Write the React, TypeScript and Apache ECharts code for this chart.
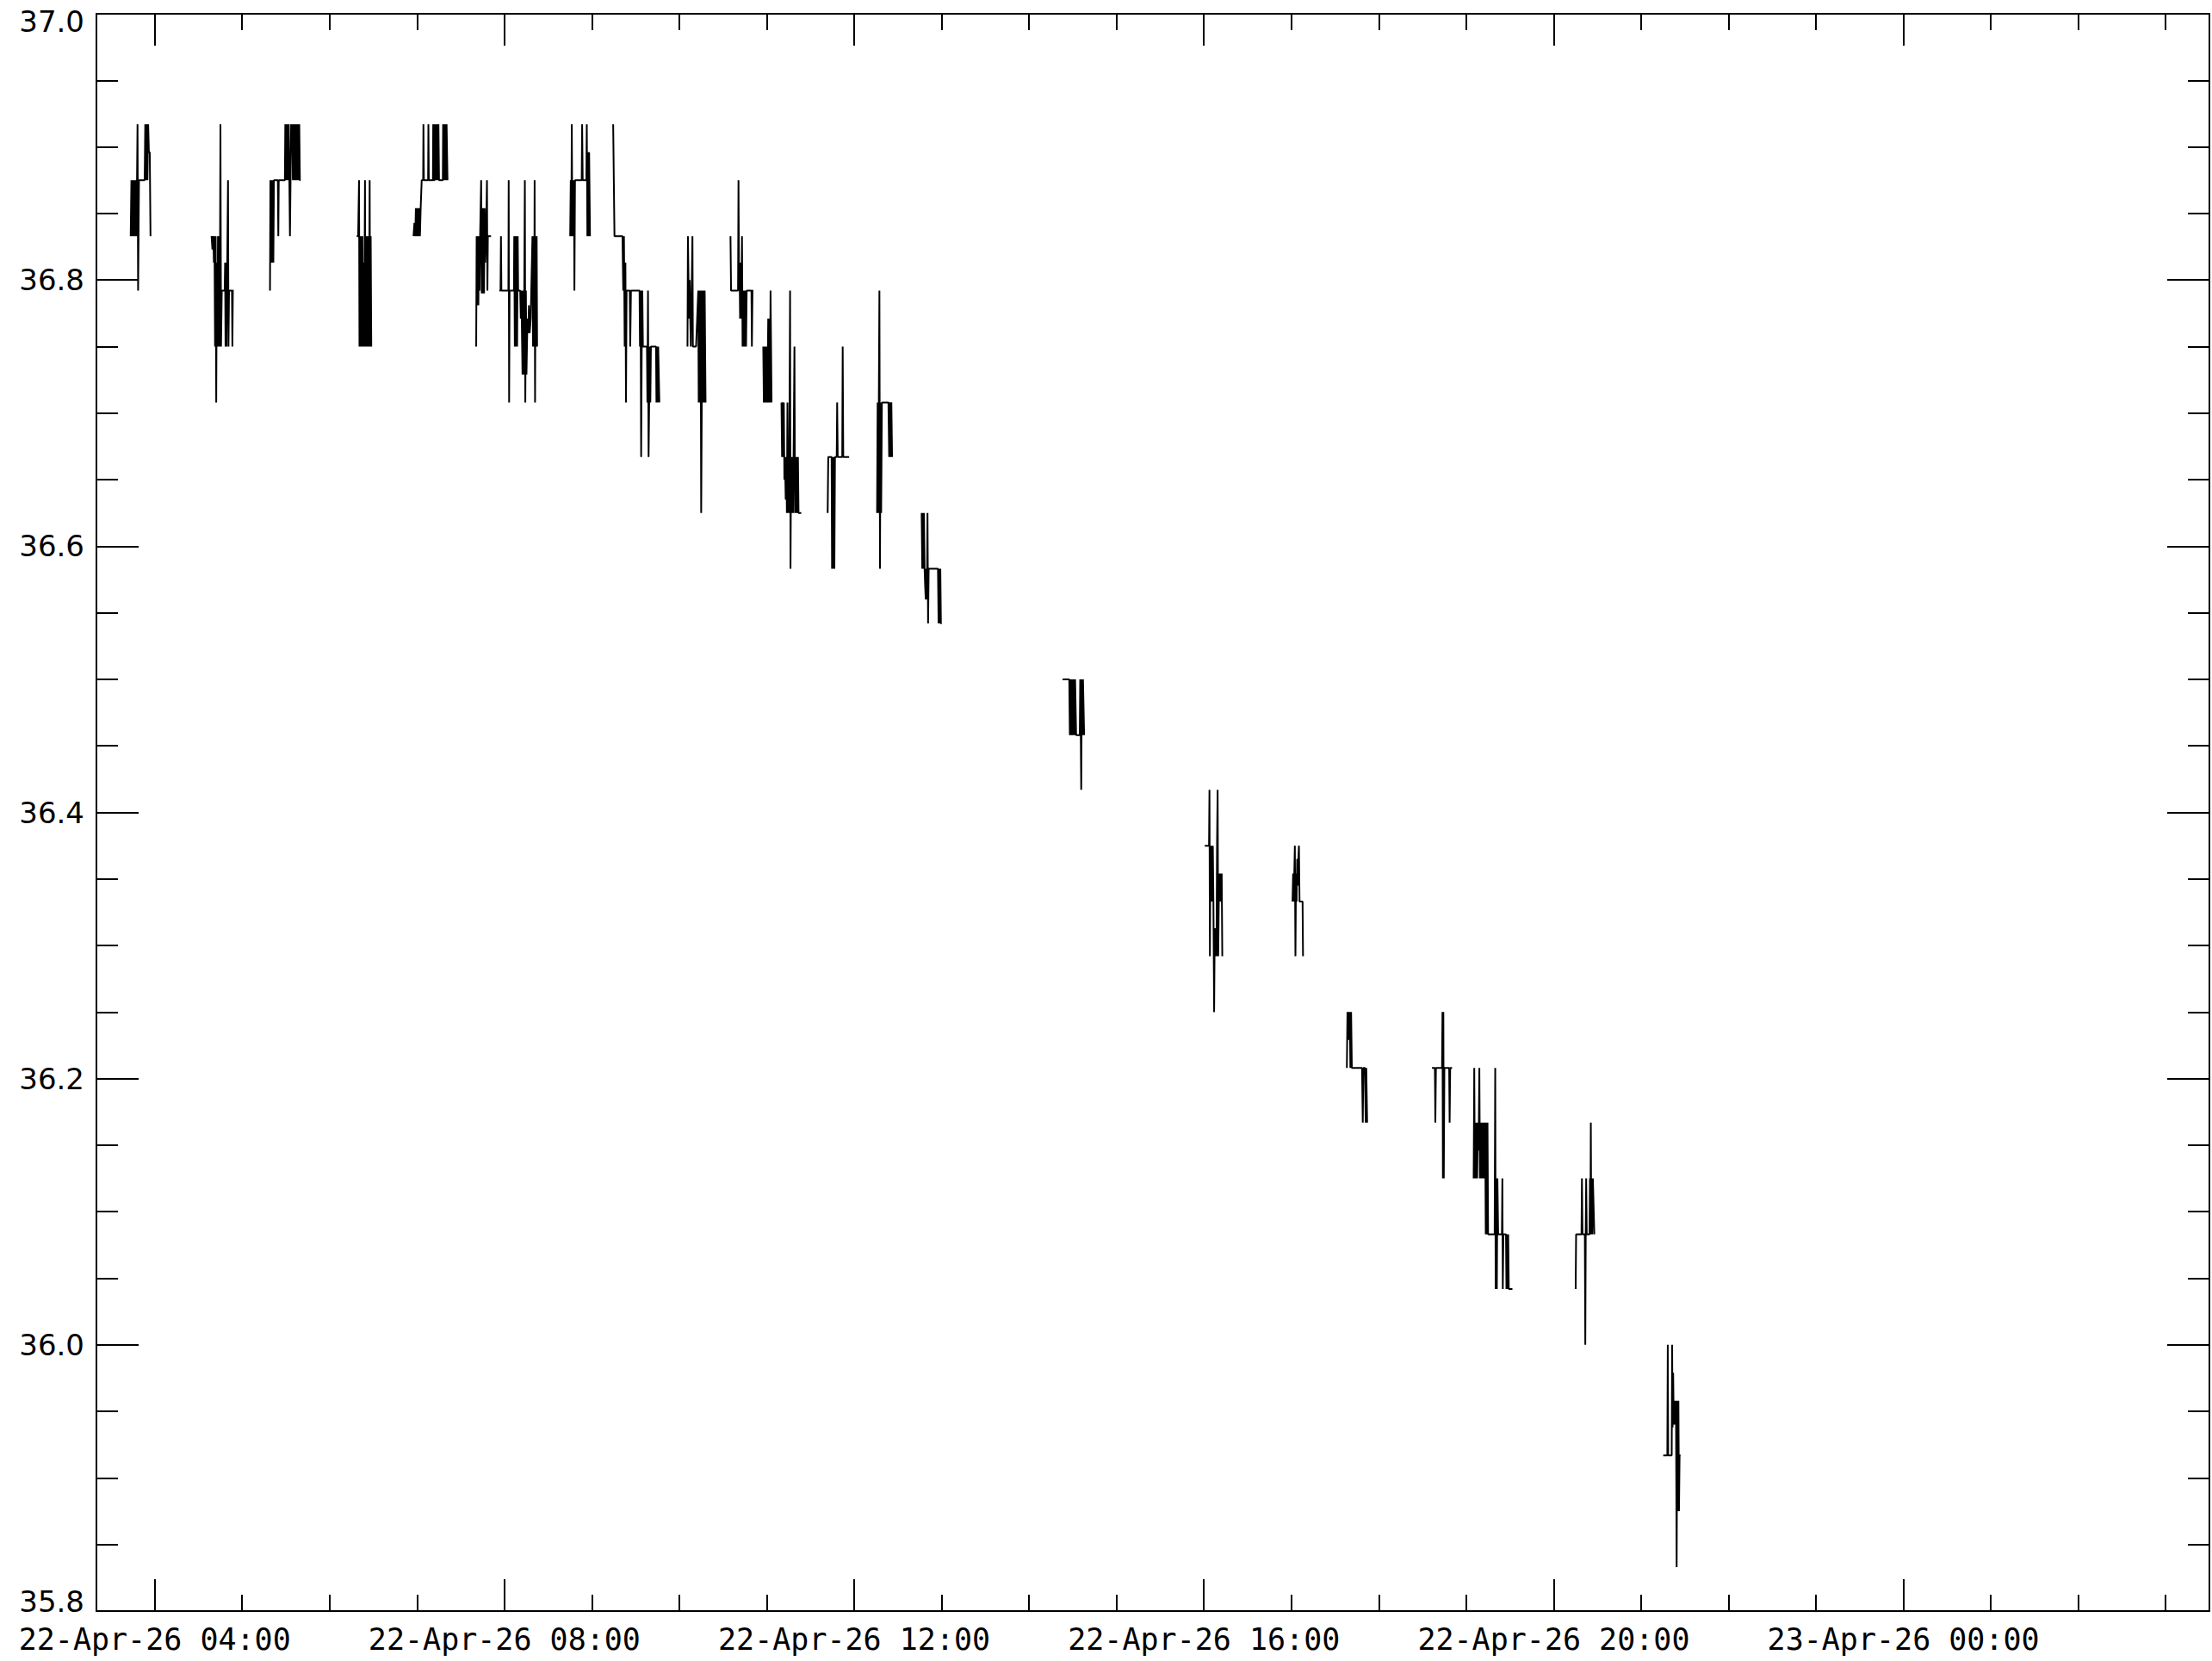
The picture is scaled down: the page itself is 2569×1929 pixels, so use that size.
import React, { useEffect, useRef } from "react";
import * as echarts from "echarts";

// x values: minutes after 22-Apr-26 00:00 ; y values: measured quantity
const xMinMinutes = 200; // 22-Apr-26 03:20
const xMaxMinutes = 1650; // 23-Apr-26 03:30
const majorTickMinutes = [240, 480, 720, 960, 1200, 1440];
const majorTickLabels = [
  "22-Apr-26 04:00",
  "22-Apr-26 08:00",
  "22-Apr-26 12:00",
  "22-Apr-26 16:00",
  "22-Apr-26 20:00",
  "23-Apr-26 00:00",
];
const hourTickMinutes = [
  240, 300, 360, 420, 480, 540, 600, 660, 720, 780, 840, 900, 960, 1020, 1080,
  1140, 1200, 1260, 1320, 1380, 1440, 1500, 1560, 1620,
];
const yMin = 35.8;
const yMax = 37.0;
const yInterval = 0.2;

const run01 = [[223.5,36.833],[224.0,36.875],[224.5,36.833],[225.0,36.875],[225.5,36.833],[226.0,36.875],[226.5,36.833],[227.0,36.875],[227.5,36.833],[228.2,36.917],[228.6,36.792],[229.2,36.875],[233.1,36.875],[233.5,36.917],[234.0,36.875],[234.5,36.917],[235.0,36.875],[235.5,36.917],[236.0,36.896],[236.6,36.896],[237.1,36.833]];
const run02 = [[279.0,36.833],[279.6,36.823],[280.2,36.833],[280.6,36.813],[281.0,36.833],[281.4,36.75],[281.8,36.833],[282.2,36.708],[282.6,36.813],[283.0,36.75],[283.4,36.833],[283.8,36.75],[284.2,36.833],[284.6,36.75],[285.1,36.917],[285.5,36.75],[286.0,36.792],[288.0,36.792],[288.3,36.813],[288.6,36.75],[288.9,36.813],[289.2,36.75],[289.6,36.792],[290.3,36.875],[290.6,36.75],[291.0,36.792],[293.0,36.792],[293.3,36.75],[293.6,36.792],[294.2,36.792]];
const run03 = [[319.1,36.792],[319.4,36.875],[319.8,36.813],[320.2,36.875],[320.6,36.813],[321.0,36.875],[321.4,36.813],[321.8,36.875],[324.5,36.875],[324.8,36.833],[325.1,36.875],[329.3,36.875],[329.6,36.917],[330.0,36.875],[330.4,36.917],[330.8,36.875],[331.2,36.917],[331.6,36.875],[332.0,36.917],[332.4,36.875],[332.8,36.833],[333.2,36.875],[333.6,36.917],[334.0,36.896],[334.4,36.917],[334.8,36.875],[335.2,36.917],[335.6,36.875],[336.0,36.917],[336.4,36.875],[336.8,36.917],[337.2,36.875],[337.6,36.917],[338.0,36.875],[338.4,36.917],[338.8,36.875],[339.2,36.917],[339.6,36.875],[340.1,36.875]];
const run04 = [[378.6,36.833],[379.6,36.833],[380.2,36.875],[380.5,36.75],[380.9,36.833],[381.3,36.75],[381.7,36.833],[382.1,36.75],[382.5,36.833],[382.9,36.75],[383.3,36.813],[383.7,36.75],[384.3,36.875],[384.6,36.75],[385.0,36.833],[385.4,36.75],[385.8,36.833],[386.2,36.75],[386.6,36.833],[387.0,36.75],[387.5,36.875],[387.8,36.75],[388.2,36.833],[388.6,36.75]];
const run05 = [[417.6,36.833],[418.2,36.843],[418.8,36.833],[419.2,36.854],[419.6,36.833],[420.0,36.854],[420.4,36.833],[420.8,36.854],[421.2,36.833],[421.6,36.854],[422.0,36.833],[422.5,36.854],[423.2,36.875],[424.2,36.875],[424.4,36.917],[424.7,36.875],[427.6,36.875],[427.8,36.917],[428.1,36.875],[430.9,36.875],[431.1,36.917],[431.4,36.875],[432.0,36.875],[432.3,36.917],[432.7,36.875],[433.1,36.917],[433.5,36.875],[433.9,36.917],[434.3,36.875],[434.7,36.917],[435.1,36.875],[435.7,36.875],[437.7,36.875],[437.9,36.917],[438.3,36.875],[438.7,36.917],[439.1,36.875],[439.5,36.917],[439.9,36.875],[440.3,36.917],[440.9,36.875]];
const run06 = [[460.6,36.75],[460.9,36.833],[461.3,36.781],[461.7,36.833],[462.1,36.781],[462.5,36.833],[462.9,36.792],[463.3,36.833],[464.0,36.875],[464.4,36.79],[464.8,36.854],[465.2,36.79],[465.6,36.854],[466.0,36.79],[466.4,36.854],[466.8,36.813],[467.4,36.833],[468.0,36.875],[468.3,36.792],[468.6,36.833],[470.8,36.833]];
const run07 = [[476.5,36.792],[477.3,36.792],[477.6,36.833],[477.9,36.792],[482.7,36.792],[482.9,36.875],[483.2,36.708],[483.5,36.792],[486.5,36.792],[486.7,36.833],[487.1,36.75],[487.5,36.833],[487.9,36.75],[488.3,36.833],[488.7,36.75],[489.1,36.833],[489.4,36.792],[490.8,36.792],[491.2,36.771],[491.6,36.792],[492.4,36.729],[492.8,36.792],[493.2,36.729],[493.6,36.792],[494.0,36.875],[494.3,36.708],[494.7,36.792],[495.1,36.729],[495.8,36.771],[496.3,36.76],[496.8,36.781],[497.3,36.76],[498.0,36.771],[499.2,36.833],[499.6,36.75],[500.0,36.833],[500.4,36.75],[500.7,36.875],[501.0,36.708],[501.4,36.833],[501.8,36.75],[502.1,36.833],[502.4,36.75]];
const run08 = [[525.1,36.833],[525.5,36.875],[525.9,36.833],[526.2,36.917],[526.6,36.833],[527.0,36.875],[527.4,36.833],[527.7,36.875],[528.0,36.792],[528.4,36.875],[533.0,36.875],[533.3,36.917],[533.7,36.875],[536.2,36.875],[536.5,36.917],[536.9,36.833],[537.3,36.896],[537.7,36.833],[538.1,36.896],[538.7,36.833]];
const run09 = [[554.6,36.917],[555.5,36.833],[561.0,36.833],[561.5,36.792],[562.0,36.833],[562.5,36.75],[563.0,36.813],[563.4,36.708],[563.8,36.792],[566.0,36.792],[566.3,36.75],[566.8,36.792],[572.7,36.792],[573.0,36.75],[573.4,36.792],[573.8,36.667],[574.2,36.75],[574.6,36.792],[575.0,36.75],[577.8,36.75],[578.1,36.708],[578.5,36.792],[578.9,36.667],[579.3,36.708],[579.7,36.75],[580.1,36.708],[580.5,36.75],[584.0,36.75],[584.3,36.708],[584.7,36.75],[585.1,36.708],[585.5,36.75],[586.3,36.708]];
const run10 = [[605.6,36.75],[605.9,36.833],[606.3,36.8],[606.7,36.771],[607.1,36.8],[607.5,36.771],[607.9,36.75],[608.3,36.75],[609.0,36.833],[609.3,36.75],[611.5,36.75],[613.0,36.792],[613.3,36.708],[613.7,36.792],[614.1,36.708],[614.6,36.792],[615.0,36.625],[615.4,36.708],[615.8,36.792],[616.2,36.708],[616.6,36.792],[617.0,36.708],[617.4,36.792],[618.0,36.708]];
const run11 = [[635.1,36.833],[635.5,36.792],[640.3,36.792],[640.6,36.875],[641.0,36.792],[641.3,36.813],[641.7,36.771],[642.1,36.813],[642.5,36.771],[643.0,36.833],[643.4,36.75],[643.8,36.792],[644.2,36.75],[644.6,36.792],[645.0,36.75],[645.4,36.792],[645.8,36.75],[646.2,36.792],[649.5,36.792],[649.8,36.75],[650.2,36.792],[650.8,36.792]];
const run12 = [[657.6,36.75],[658.0,36.708],[658.4,36.75],[658.8,36.708],[659.2,36.75],[659.6,36.708],[660.0,36.75],[660.4,36.708],[661.0,36.771],[661.4,36.708],[661.8,36.771],[662.2,36.708],[662.6,36.792],[663.3,36.708]];
const run13 = [[670.1,36.708],[670.5,36.667],[670.9,36.708],[671.3,36.667],[671.7,36.708],[672.1,36.65],[672.5,36.667],[673.0,36.635],[673.4,36.667],[673.8,36.625],[674.2,36.708],[674.6,36.625],[675.0,36.667],[675.3,36.625],[676.0,36.792],[676.3,36.583],[676.7,36.667],[677.1,36.625],[677.5,36.667],[678.0,36.625],[678.4,36.667],[679.0,36.75],[679.4,36.625],[679.8,36.667],[680.2,36.625],[680.6,36.667],[681.0,36.625],[681.4,36.667],[681.8,36.625],[682.5,36.625],[683.7,36.625]];
const run14 = [[701.8,36.625],[702.2,36.667],[704.5,36.667],[704.8,36.583],[705.2,36.667],[705.6,36.583],[706.0,36.667],[706.4,36.583],[706.8,36.667],[708.0,36.667],[708.3,36.708],[708.7,36.667],[711.8,36.667],[712.1,36.75],[712.5,36.667],[716.5,36.667]];
const run15 = [[735.7,36.625],[736.1,36.708],[736.5,36.625],[736.9,36.708],[737.3,36.792],[737.7,36.583],[738.1,36.708],[738.5,36.625],[739.0,36.708],[743.5,36.708],[744.0,36.667],[744.5,36.708],[745.0,36.667],[745.5,36.708],[746.0,36.667]];
const run16 = [[766.3,36.625],[766.7,36.583],[767.1,36.625],[767.5,36.583],[767.9,36.625],[768.3,36.583],[768.7,36.57],[769.1,36.56],[769.5,36.583],[769.9,36.56],[770.3,36.625],[770.7,36.542],[771.1,36.583],[777.5,36.583],[777.9,36.542],[778.3,36.583],[778.7,36.542],[779.1,36.583],[779.5,36.542],[780.0,36.542]];
const run17 = [[863.0,36.5],[867.6,36.5],[868.0,36.458],[868.4,36.5],[868.8,36.458],[869.2,36.5],[869.6,36.458],[870.0,36.5],[870.4,36.458],[870.8,36.5],[871.2,36.458],[871.6,36.5],[872.3,36.458],[874.8,36.458],[875.1,36.5],[875.5,36.458],[875.8,36.417],[876.2,36.5],[876.6,36.458],[877.0,36.5],[877.8,36.458]];
const run18 = [[960.6,36.375],[963.5,36.375],[963.8,36.417],[964.1,36.292],[964.5,36.375],[964.9,36.333],[965.3,36.375],[965.7,36.333],[966.1,36.375],[966.5,36.333],[967.0,36.25],[967.4,36.313],[967.8,36.292],[968.2,36.313],[968.6,36.292],[969.0,36.375],[969.4,36.417],[969.8,36.292],[970.2,36.333],[970.6,36.354],[971.0,36.333],[971.4,36.354],[971.8,36.333],[972.2,36.354],[972.6,36.292]];
const run19 = [[1020.8,36.333],[1021.2,36.354],[1021.6,36.333],[1022.0,36.354],[1022.4,36.375],[1022.8,36.292],[1023.2,36.354],[1023.6,36.333],[1024.0,36.365],[1024.4,36.345],[1024.8,36.365],[1025.2,36.375],[1025.6,36.333],[1027.7,36.333],[1028.0,36.292]];
const run20 = [[1058.1,36.208],[1058.5,36.25],[1058.9,36.229],[1059.3,36.25],[1059.7,36.229],[1060.1,36.25],[1060.5,36.208],[1061.0,36.25],[1061.5,36.208],[1068.5,36.208],[1069.0,36.167],[1069.4,36.208],[1070.5,36.208],[1071.0,36.167],[1071.4,36.208],[1072.0,36.167]];
const run21 = [[1116.5,36.208],[1118.5,36.208],[1118.8,36.167],[1119.2,36.208],[1123.4,36.208],[1123.7,36.25],[1124.0,36.125],[1124.3,36.25],[1124.6,36.125],[1125.0,36.208],[1128.3,36.208],[1128.6,36.167],[1129.0,36.208],[1130.3,36.208]];
const run22 = [[1145.1,36.125],[1145.5,36.208],[1145.9,36.125],[1146.3,36.167],[1146.7,36.125],[1147.1,36.167],[1147.5,36.125],[1148.0,36.167],[1148.5,36.146],[1149.0,36.208],[1149.4,36.125],[1149.8,36.167],[1150.2,36.125],[1150.6,36.167],[1151.0,36.125],[1151.4,36.167],[1151.8,36.125],[1152.2,36.167],[1152.6,36.125],[1153.0,36.167],[1153.4,36.083],[1153.8,36.167],[1154.2,36.083],[1154.6,36.167],[1155.0,36.083],[1159.5,36.083],[1159.9,36.208],[1160.2,36.042],[1160.6,36.125],[1161.0,36.042],[1161.4,36.125],[1161.9,36.083],[1164.5,36.083],[1164.8,36.125],[1165.1,36.042],[1165.5,36.083],[1167.3,36.083],[1167.6,36.042],[1168.0,36.083],[1168.4,36.042],[1168.8,36.083],[1169.2,36.042],[1171.7,36.042]];
const run23 = [[1215.1,36.042],[1215.4,36.083],[1219.1,36.083],[1219.4,36.125],[1219.8,36.083],[1221.4,36.083],[1221.7,36.0],[1222.0,36.083],[1222.3,36.125],[1222.7,36.083],[1224.6,36.083],[1224.9,36.125],[1225.2,36.083],[1225.5,36.167],[1225.8,36.083],[1226.1,36.125],[1226.5,36.083],[1226.9,36.125],[1227.9,36.083]];
const run24 = [[1275.2,35.917],[1278.0,35.917],[1278.3,36.0],[1278.6,35.917],[1281.0,35.917],[1281.3,36.0],[1281.6,35.938],[1282.0,35.979],[1282.4,35.94],[1282.8,35.958],[1283.2,35.94],[1283.6,35.958],[1284.0,35.94],[1284.4,35.833],[1284.8,35.958],[1285.2,35.875],[1285.6,35.958],[1286.0,35.875],[1286.4,35.917],[1287.1,35.917]];

const runs = [run01, run02, run03, run04, run05, run06, run07, run08, run09, run10, run11, run12, run13, run14, run15, run16, run17, run18, run19, run20, run21, run22, run23, run24];

const FONT = "DejaVu Sans";
const FONT_X = "DejaVu Sans Mono";
const BLACK = "#000000";

export default function App() {
  const ref = useRef<HTMLDivElement>(null);

  useEffect(() => {
    if (!ref.current) return;
    const chart = echarts.init(ref.current, undefined, { renderer: "svg" });

    const lineData: any[] = [];
    runs.forEach((run, i) => {
      if (i > 0) lineData.push([run[0][0], null]);
      run.forEach((p) => lineData.push(p));
    });

    const axisLine = { show: true, onZero: false, lineStyle: { color: BLACK, width: 2 } };
    const tickStyle = { color: BLACK, width: 2 };

    const xBase = (position: string) => ({
      type: "value",
      position,
      min: xMinMinutes,
      max: xMaxMinutes,
      splitLine: { show: false },
      minorSplitLine: { show: false },
    });

    const yLabelFormatter = (v: number) => {
      const s = v.toFixed(1);
      if (Math.abs(v - yMin) < 1e-6) return "{lo|" + s + "}";
      if (Math.abs(v - yMax) < 1e-6) return "{hi|" + s + "}";
      return s;
    };

    const yBase = (position: string, showLabel: boolean) => ({
      type: "value",
      position,
      min: yMin,
      max: yMax,
      interval: yInterval,
      axisLine,
      axisTick: { show: true, inside: true, length: 49, lineStyle: tickStyle },
      minorTick: { show: true, splitNumber: 4, length: 25, lineStyle: tickStyle },
      splitLine: { show: false },
      minorSplitLine: { show: false },
      axisLabel: {
        show: showLabel,
        formatter: yLabelFormatter,
        fontSize: 34,
        fontFamily: FONT,
        color: BLACK,
        margin: 14,
        rich: {
          lo: { fontSize: 34, fontFamily: FONT, color: BLACK, padding: [0, 0, 22, 0] },
          hi: { fontSize: 34, fontFamily: FONT, color: BLACK, padding: [18, 0, 0, 0] },
        },
      },
    });

    chart.setOption({
      animation: false,
      backgroundColor: "#ffffff",
      grid: { left: 112, right: 3, top: 16, bottom: 58, containLabel: false },
      xAxis: [
        {
          ...xBase("bottom"),
          axisLine,
          axisTick: { show: true, inside: true, length: 37, customValues: majorTickMinutes, lineStyle: tickStyle },
          axisLabel: {
            show: true,
            customValues: majorTickMinutes,
            formatter: (v: number) => {
              const i = majorTickMinutes.indexOf(Math.round(v));
              return i >= 0 ? majorTickLabels[i] : "";
            },
            fontSize: 35,
            fontFamily: FONT_X,
            color: BLACK,
            margin: 15,
          },
        },
        {
          ...xBase("bottom"),
          axisLine: { show: false, onZero: false },
          axisTick: { show: true, inside: true, length: 19, customValues: hourTickMinutes, lineStyle: tickStyle },
          axisLabel: { show: false },
        },
        {
          ...xBase("top"),
          axisLine,
          axisTick: { show: true, inside: true, length: 37, customValues: majorTickMinutes, lineStyle: tickStyle },
          axisLabel: { show: false },
        },
        {
          ...xBase("top"),
          axisLine: { show: false, onZero: false },
          axisTick: { show: true, inside: true, length: 19, customValues: hourTickMinutes, lineStyle: tickStyle },
          axisLabel: { show: false },
        },
      ],
      yAxis: [yBase("left", true), yBase("right", false)],
      series: [
        {
          type: "line",
          xAxisIndex: 0,
          yAxisIndex: 0,
          data: lineData,
          showSymbol: false,
          symbol: "none",
          connectNulls: false,
          silent: true,
          lineStyle: { color: BLACK, width: 2 },
        },
      ],
    });

    return () => chart.dispose();
  }, []);

  return (
    <div
      ref={ref}
      style={{ position: "absolute", left: 0, top: 0, width: 2569, height: 1929, background: "#ffffff" }}
    />
  );
}
